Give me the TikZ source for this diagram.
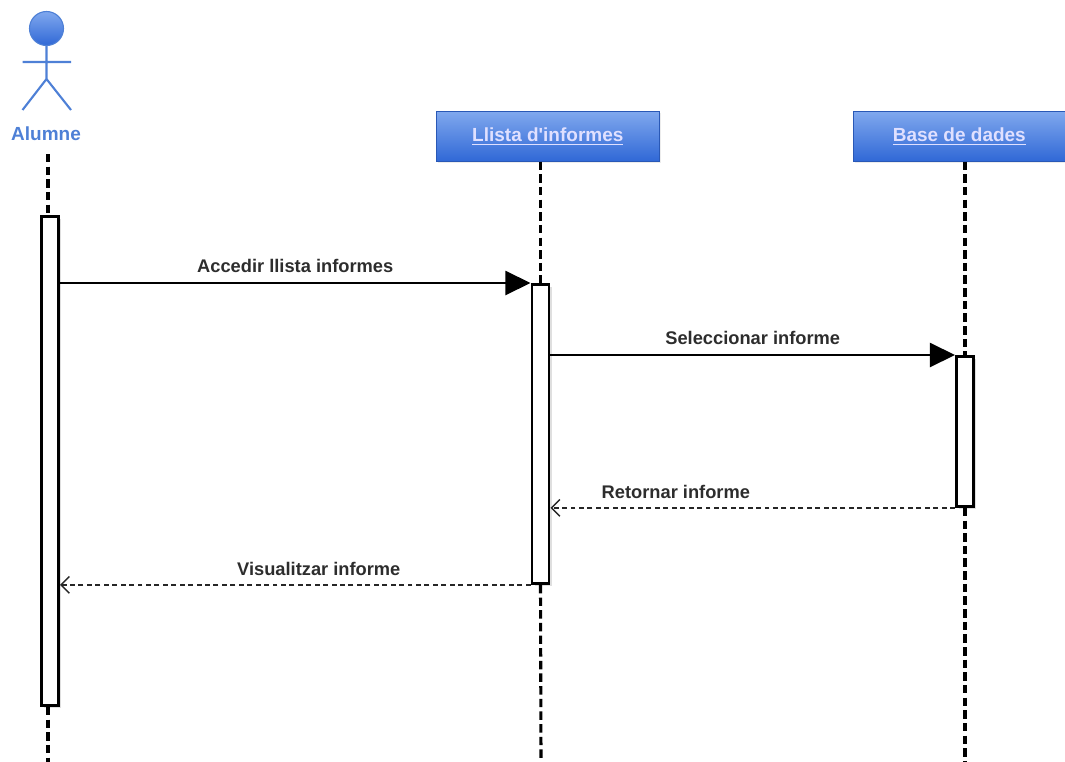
\documentclass[tikz,border=0pt]{standalone}
\usepackage{fontspec}
\setmainfont{Liberation Sans}
\usetikzlibrary{positioning}
\usetikzlibrary{arrows.meta,shadows}

\definecolor{actorblue}{RGB}{78,128,214}
\definecolor{headtop}{RGB}{128,168,238}
\definecolor{headbot}{RGB}{48,104,214}
\definecolor{msgtext}{RGB}{45,45,45}

\tikzset{
	header/.style={draw=headbot!85!black, line width=0.4pt, top color=headtop, bottom color=headbot,
		minimum height=1.25cm, anchor=north west, text=white!88!blue,
		font=\bfseries\fontsize{13.5}{16}\selectfont,
		drop shadow={opacity=0.15, shadow xshift=1.5pt, shadow yshift=-1.5pt}},
	lifeline/.style={line width=2.2pt, dash pattern=on 6pt off 3pt},
	activation/.style={draw, fill=white, line width=2pt, minimum width=0.425cm, anchor=north,
		drop shadow={opacity=0.25, shadow xshift=2pt, shadow yshift=-2pt}},
	call/.style={line width=2.1pt, -{Triangle[length=18pt,width=17pt]}},
	reply/.style={line width=1pt, draw=black!85, dash pattern=on 3.5pt off 2.5pt,
		-{Straight Barb[length=6pt,width=12pt]}},
	msglabel/.style={text=msgtext, font=\bfseries\fontsize{13}{15}\selectfont, above=4pt, inner sep=2pt}
}

\begin{document}
\begin{tikzpicture}[x=0.025cm, y=-0.025cm]

	\useasboundingbox (0,0) rectangle (1065,762);

	%Actor
	\shade[top color=headtop, bottom color=headbot, draw=actorblue, line width=0.8pt] (46.5,28.5) circle (17);
	\draw[actorblue, line width=1.5pt] (46.5,45.5) -- (46.5,79)
		(22.5,62) -- (71,62)
		(22.5,110) -- (46.5,79) -- (71,110);
	\node[text=actorblue, font=\bfseries\fontsize{13.5}{16}\selectfont] (alumne) at (46,134) {Alumne};

	%Headers
	\node[header, minimum width=5.575cm] (llista) at (436,111) {\underline{Llista d\textquotesingle informes}};
	\node[header, minimum width=5.3cm] (base) at (853,111) {\underline{Base de dades}};

	%Activations
	\node[activation, minimum height=12.225cm] (actA) at (50,215) {};
	\node[activation, minimum height=7.475cm] (actL) at (540.5,283) {};
	\node[activation, minimum height=3.75cm] (actB) at (965,355) {};

	%Ends of the lifelines
	\coordinate (topA) at (48,154);
	\coordinate (endA) at (48,762);
	\coordinate (endL) at (541,762);
	\coordinate (endB) at (965,762);

	%Lifelines
	\draw[lifeline] (topA) -- (topA |- actA.north);
	\draw[lifeline] (actA.south -| topA) -- (endA);
	\draw[lifeline] (actL.north |- llista.south) -- (actL.north);
	\draw[lifeline] (actL.south) -- (endL);
	\draw[lifeline] (actB.north |- base.south) -- (actB.north);
	\draw[lifeline] (actB.south) -- (endB);

	%Messages
	\draw[call] (actA.east |- actL.north west) -- node[msglabel] {Accedir llista informes} (actL.north west);
	\draw[call] (actL.east |- actB.north west) -- node[msglabel] {Seleccionar informe} (actB.north west);
	\draw[reply] (actB.south west) -- node[msglabel, pos=0.69] {Retornar informe} (actL.east |- actB.south west);
	\draw[reply] (actL.south west) -- node[msglabel, pos=0.45] {Visualitzar informe} (actA.east |- actL.south west);

\end{tikzpicture}
\end{document}
